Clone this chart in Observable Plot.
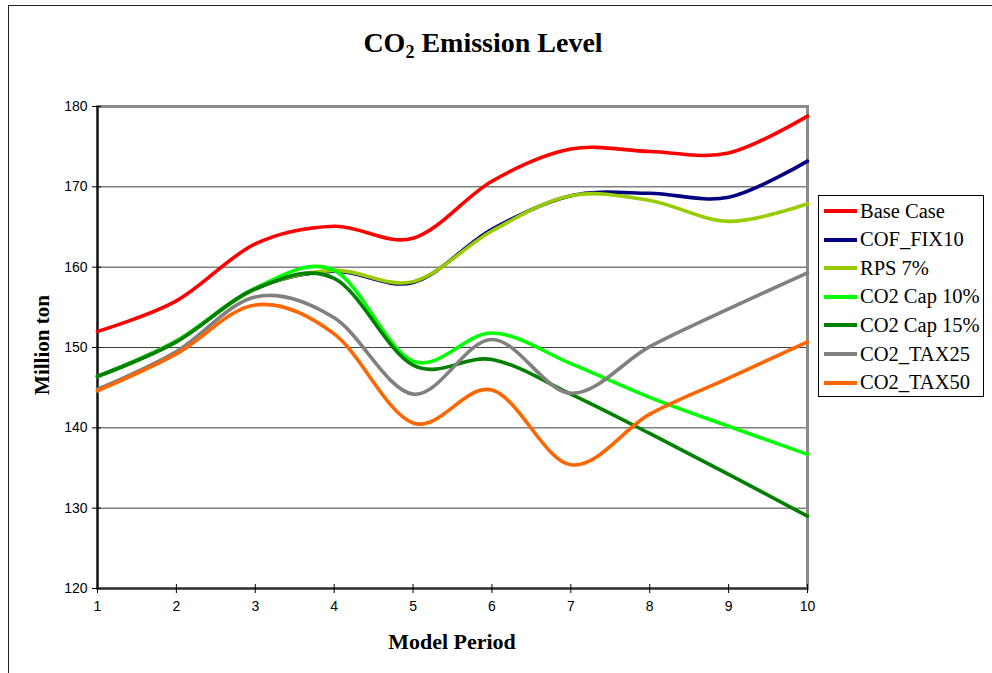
<!DOCTYPE html>
<html>
<head>
<meta charset="utf-8">
<script src="https://cdn.jsdelivr.net/npm/d3@7"></script>
<script src="https://cdn.jsdelivr.net/npm/@observablehq/plot@0.6"></script>
<style>
  html, body { margin: 0; padding: 0; background: #fff; }
  #chart { position: relative; width: 992px; height: 673px; overflow: hidden; }
  #chart svg { position: absolute; left: 0; top: 0; }
  .outer { position: absolute; left: 8px; top: 5px; width: 1000px; height: 700px;
           border-top: 1.5px solid #222; border-left: 1.5px solid #222; }
  .serif { position: absolute; font-family: "Liberation Serif", "Times New Roman", serif; color: #000; white-space: nowrap; }
  .title { left: 0; width: 966px; top: 27px; text-align: center; font-size: 28px; font-weight: bold; }
  .title sub { font-size: 18px; vertical-align: -6px; line-height: 0; }
  .xlabel { left: 97px; width: 710px; top: 629px; text-align: center; font-size: 22px; font-weight: bold; }
  .ylabel { left: 42px; top: 345px; font-size: 21px; font-weight: bold;
            transform: translate(-50%, -50%) rotate(-90deg); }
  .legend { position: absolute; left: 818px; top: 195px; width: 166px; height: 202px;
            border: 1px solid #000; background: #fff; box-sizing: border-box; }
  .legend .row { position: absolute; left: 0; height: 28px; display: flex; align-items: center;
                 font-family: "Liberation Serif", "Times New Roman", serif; font-size: 20.5px; white-space: nowrap; }
  .legend .sw { width: 33px; height: 4px; margin-left: 5px; margin-right: 3px; }
</style>
</head>
<body>
<div id="chart">
  <div class="outer"></div>
</div>
<script>
// Model periods and emission levels (million ton) for each scenario
const periods = [1, 2, 3, 4, 5, 6, 7, 8, 9, 10];
const yTicks = [120, 130, 140, 150, 160, 170, 180];

const seriesNames = ["Base Case", "COF_FIX10", "RPS 7%", "CO2 Cap 10%", "CO2 Cap 15%", "CO2_TAX25", "CO2_TAX50"];
const seriesColors = ["#ff0000", "#000080", "#99cc00", "#00ff00", "#008000", "#808080", "#ff6600"];

const baseCase = [152.0, 155.8, 162.9, 165.1, 163.6, 170.7, 174.7, 174.4, 174.2, 178.8];
const cofFix10 = [146.4, 150.8, 157.3, 159.5, 158.1, 164.7, 168.9, 169.2, 168.7, 173.2];
const rps7     = [146.4, 150.8, 157.3, 159.6, 158.2, 164.5, 168.9, 168.3, 165.7, 167.9];
const cap10    = [146.4, 150.8, 157.4, 159.6, 148.3, 151.8, 148.0, 143.8, 140.2, 136.7];
const cap15    = [146.4, 150.7, 157.3, 158.6, 147.8, 148.5, 144.2, 139.3, 134.2, 129.0];
const tax25    = [144.8, 149.5, 156.3, 153.7, 144.2, 151.0, 144.3, 150.1, 154.8, 159.3];
const tax50    = [144.6, 149.2, 155.3, 151.7, 140.6, 144.7, 135.4, 141.7, 146.2, 150.7];

const seriesValues = [baseCase, cofFix10, rps7, cap10, cap15, tax25, tax50];

// Long-format table: one row per scenario and period
const rows = seriesNames.flatMap((name, i) =>
  periods.map((p, j) => ({ scenario: name, period: p, value: seriesValues[i][j] }))
);

const lineMarks = seriesNames.map((name, i) =>
  Plot.line(rows.filter(d => d.scenario === name), {
    x: "period", y: "value",
    stroke: seriesColors[i], strokeWidth: 3.6, curve: "cardinal"
  })
);

const plot = Plot.plot({
  width: 992,
  height: 673,
  marginLeft: 97,
  marginRight: 185,
  marginTop: 106,
  marginBottom: 85,
  x: { domain: [periods[0], periods[periods.length - 1]] },
  y: { domain: [yTicks[0], yTicks[yTicks.length - 1]] },
  style: { fontFamily: "'Liberation Sans', Arial, sans-serif", fontSize: "14px", background: "transparent", color: "#000" },
  marks: [
    Plot.gridY(yTicks.slice(1, -1), { stroke: "#404040", strokeOpacity: 1, strokeWidth: 1 }),
    Plot.frame({ stroke: "#8a8a8a", strokeWidth: 3 }),
    Plot.ruleX([periods[0]], { stroke: "#111", strokeWidth: 2 }),
    Plot.ruleY([yTicks[0]], { stroke: "#333", strokeWidth: 2 }),
    ...lineMarks,
    Plot.axisY(yTicks, { tickSize: 9, dx: 4, tickPadding: 5, label: null, stroke: "#000", fontSize: 14 }),
    Plot.axisX(periods, { tickSize: 9, dy: -4, tickPadding: 8, label: null, stroke: "#000", fontSize: 14, tickFormat: d => String(d) })
  ]
});

const chart = document.getElementById("chart");
chart.appendChild(plot);

// Titles
const title = document.createElement("div");
title.className = "serif title";
title.innerHTML = "CO<sub>2</sub> Emission Level";
chart.appendChild(title);

const xl = document.createElement("div");
xl.className = "serif xlabel";
xl.textContent = "Model Period";
chart.appendChild(xl);

const yl = document.createElement("div");
yl.className = "serif ylabel";
yl.textContent = "Million ton";
chart.appendChild(yl);

// Legend with line swatches
const legend = document.createElement("div");
legend.className = "legend";
seriesNames.forEach((name, i) => {
  const row = document.createElement("div");
  row.className = "row";
  row.style.top = (1 + i * 28.6) + "px";
  const sw = document.createElement("span");
  sw.className = "sw";
  sw.style.background = seriesColors[i];
  const lab = document.createElement("span");
  lab.textContent = name;
  row.appendChild(sw);
  row.appendChild(lab);
  legend.appendChild(row);
});
chart.appendChild(legend);
</script>
</body>
</html>
